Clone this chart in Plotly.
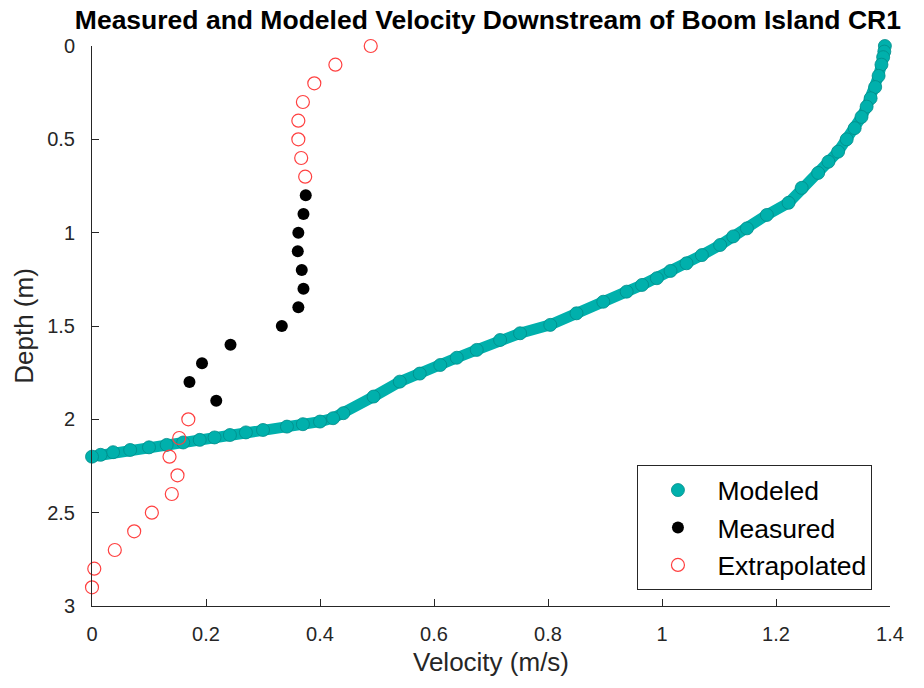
import plotly.graph_objects as go

# Modeled profile (velocity m/s, depth m)
mod_vel = [1.391, 1.390, 1.388, 1.385, 1.380, 1.374, 1.366, 1.359, 1.350, 1.338,
           1.324, 1.309, 1.292, 1.274, 1.245, 1.222, 1.184, 1.149, 1.125, 1.102,
           1.070, 1.043, 1.015, 0.991, 0.965, 0.938, 0.897, 0.850, 0.804, 0.751,
           0.716, 0.675, 0.640, 0.611, 0.575, 0.540, 0.494, 0.441, 0.423, 0.400,
           0.370, 0.342, 0.300, 0.270, 0.242, 0.215, 0.189, 0.160, 0.131, 0.100,
           0.067, 0.037, 0.015, 0.000]
mod_depth = [0.00, 0.03, 0.06, 0.10, 0.16, 0.22, 0.28, 0.325, 0.38, 0.44,
             0.50, 0.566, 0.62, 0.68, 0.76, 0.84, 0.905, 0.977, 1.02, 1.066,
             1.12, 1.164, 1.205, 1.244, 1.28, 1.316, 1.37, 1.432, 1.494, 1.539,
             1.575, 1.628, 1.67, 1.709, 1.755, 1.798, 1.878, 1.967, 1.994, 2.012,
             2.026, 2.039, 2.057, 2.07, 2.084, 2.097, 2.11, 2.124, 2.137, 2.150,
             2.164, 2.176, 2.19, 2.20]

# Measured
meas_depth = [0.8, 0.9, 1.0, 1.1, 1.2, 1.3, 1.4, 1.5, 1.6, 1.7, 1.8, 1.9]
meas_vel = [0.375, 0.371, 0.362, 0.361, 0.368, 0.371, 0.362, 0.333, 0.243, 0.193, 0.171, 0.218]

# Extrapolated
ext_depth = [0.0, 0.1, 0.2, 0.3, 0.4, 0.5, 0.6, 0.7,
             2.0, 2.1, 2.2, 2.3, 2.4, 2.5, 2.6, 2.7, 2.8, 2.9]
ext_vel = [0.489, 0.427, 0.390, 0.370, 0.362, 0.362, 0.367, 0.374,
           0.169, 0.153, 0.136, 0.150, 0.140, 0.105, 0.074, 0.040, 0.004, 0.0]

x_ticks = [0, 0.2, 0.4, 0.6, 0.8, 1.0, 1.2, 1.4]
x_labels = ["0", "0.2", "0.4", "0.6", "0.8", "1", "1.2", "1.4"]
y_ticks = [0, 0.5, 1, 1.5, 2, 2.5, 3]
y_labels = ["0", "0.5", "1", "1.5", "2", "2.5", "3"]

teal = "rgb(0,176,172)"
teal_edge = "rgb(0,140,137)"
red = "rgb(255,64,64)"
axis_col = "rgb(38,38,38)"
FONT = "Liberation Sans, Arial, sans-serif"

fig = go.Figure()
# band underneath so dense overlapping markers read as continuous
fig.add_trace(go.Scatter(x=mod_vel, y=mod_depth, mode="lines",
                         line=dict(color=teal, width=11),
                         showlegend=False, hoverinfo="skip", cliponaxis=False))
fig.add_trace(go.Scatter(x=mod_vel, y=mod_depth, mode="markers", name="Modeled",
                         marker=dict(symbol="circle", size=13, color=teal,
                                     line=dict(color=teal_edge, width=0.8)),
                         cliponaxis=False))
fig.add_trace(go.Scatter(x=meas_vel, y=meas_depth, mode="markers", name="Measured",
                         marker=dict(symbol="circle", size=12, color="black",
                                     line=dict(color="black", width=0)),
                         cliponaxis=False))
fig.add_trace(go.Scatter(x=ext_vel, y=ext_depth, mode="markers", name="Extrapolated",
                         marker=dict(symbol="circle-open", size=13, color=red,
                                     line=dict(color=red, width=1.2)),
                         cliponaxis=False))

fig.update_layout(
    width=924, height=688,
    margin=dict(l=92, r=34, t=46, b=82),
    paper_bgcolor="white", plot_bgcolor="white",
    font=dict(family=FONT, color=axis_col),
    title=dict(text="<b>Measured and Modeled Velocity Downstream of Boom Island CR1</b>",
               x=0.528, xanchor="center", y=0.972, yanchor="middle",
               font=dict(size=26.5, color="black", family=FONT)),
    legend=dict(x=0.978, xanchor="right", y=0.028, yanchor="bottom",
                bgcolor="white", bordercolor="rgb(38,38,38)", borderwidth=1,
                itemwidth=69,
                font=dict(size=26.5, color="black")),
    showlegend=True,
)
fig.update_xaxes(range=[0, 1.4], tickvals=x_ticks, ticktext=x_labels,
                 showgrid=False, zeroline=False, showline=True, linecolor=axis_col,
                 linewidth=1, ticks="inside", ticklen=7, tickcolor=axis_col,
                 ticklabelstandoff=10,
                 tickfont=dict(size=20, color=axis_col),
                 title=dict(text="Velocity (m/s)", font=dict(size=26, color=axis_col), standoff=8))
fig.update_yaxes(range=[3, 0], tickvals=y_ticks, ticktext=y_labels,
                 showgrid=False, zeroline=False, showline=True, linecolor=axis_col,
                 linewidth=1, ticks="inside", ticklen=7, tickcolor=axis_col,
                 ticklabelstandoff=12,
                 tickfont=dict(size=20, color=axis_col),
                 title=dict(text="Depth (m)", font=dict(size=26, color=axis_col), standoff=6))

fig.write_html("out.html")
